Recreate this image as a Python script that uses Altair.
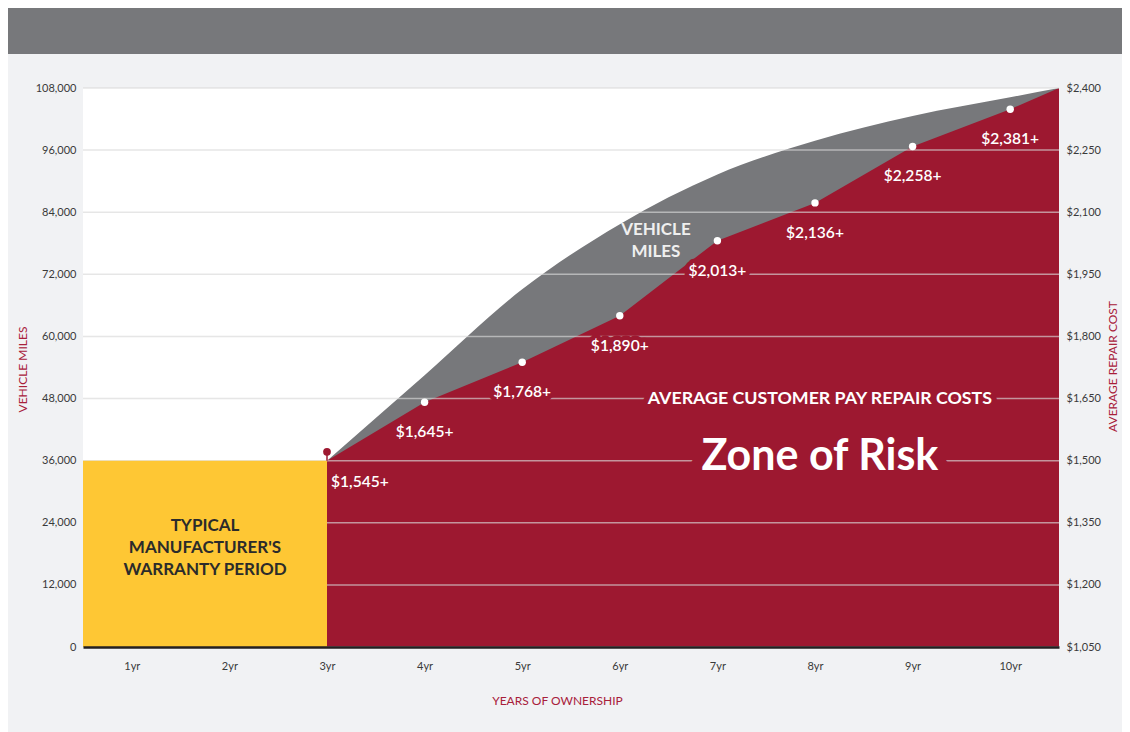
import altair as alt
import pandas as pd

# ---------------- data ----------------
years = [1, 2, 3, 4, 5, 6, 7, 8, 9, 10]
mile_ticks = [0, 12000, 24000, 36000, 48000, 60000, 72000, 84000, 96000, 108000]
cost_ticks = [1050, 1200, 1350, 1500, 1650, 1800, 1950, 2100, 2250, 2400]

warranty_start = [0.5]
warranty_end = [3]
warranty_miles = [36000]

# vehicle miles curve (top of grey area)
miles_x = [3, 4, 5, 6, 7, 8, 9, 10, 10.5]
miles_y = [36000, 52500, 69100, 81700, 91300, 97800, 102600, 106200, 108000]

# average customer pay repair cost (top of red area), on the miles scale
cost_x = [3, 4, 5, 6, 7, 8, 9, 10, 10.5]
cost_y = [36000, 47300, 55000, 64000, 78500, 85800, 96700, 103900, 108000]

# marker dots and their labels
dot_years = [3, 4, 5, 6, 7, 8, 9, 10]
dot_miles = [37700, 47300, 55000, 64000, 78500, 85800, 96700, 103900]
dot_labels = ["$1,545+", "$1,645+", "$1,768+", "$1,890+", "$2,013+", "$2,136+", "$2,258+", "$2,381+"]

# ---------------- styling ----------------
W, H = 976, 559
RED = "#9d1830"
GREY = "#77787b"
YELLOW = "#fec734"
BG = "#f1f2f4"
TITLE_RED = "#a8203a"
FONT = "Lato"

xscale = alt.Scale(domain=[0.5, 10.5], nice=False, zero=False)
yscale = alt.Scale(domain=[0, 108000], nice=False, zero=False)

x_axis = alt.Axis(values=years, labelExpr="datum.value + 'yr'", ticks=False, grid=False,
                  domain=True, domainColor="#231f20", domainWidth=2.5, zindex=1,
                  labelPadding=13, labelFontSize=11, labelColor="#3a3a3a",
                  titleColor=TITLE_RED, titleFontSize=12, titleFontWeight="normal",
                  titleX=474, titleY=53, titleBaseline="middle")
y_axis = alt.Axis(values=mile_ticks, format=",.0f", ticks=False, grid=False, domain=False,
                  labelPadding=7, labelFontSize=11, labelColor="#3a3a3a",
                  titleColor=TITLE_RED, titleFontSize=12, titleFontWeight="normal",
                  titleAngle=270, titleX=-61, titleY=281, titleAlign="center",
                  titleBaseline="middle")
r_axis = alt.Axis(orient="right", values=cost_ticks, format="$,.0f", ticks=False, grid=False,
                  domain=False, labelPadding=7, labelFontSize=11, labelColor="#3a3a3a",
                  titleColor=TITLE_RED, titleFontSize=12, titleFontWeight="normal",
                  titleAngle=270, titleX=53, titleY=278, titleAlign="center",
                  titleBaseline="middle")


def X(f):
    return alt.X(f"{f}:Q", scale=xscale, axis=x_axis, title="YEARS OF OWNERSHIP")


def Y(f):
    return alt.Y(f"{f}:Q", scale=yscale, axis=y_axis, title="VEHICLE MILES")


miles_df = pd.DataFrame({"x": miles_x, "y": miles_y})
cost_df = pd.DataFrame({"x": cost_x, "y": cost_y})
dots_df = pd.DataFrame({"x": dot_years, "y": dot_miles, "label": dot_labels})
grid_df = pd.DataFrame({"y": mile_ticks})
warr_df = pd.DataFrame({"x": warranty_start, "x2": warranty_end, "y": [0], "y2": warranty_miles})
pin_df = pd.DataFrame({"x": dot_years[:1], "y": dot_miles[:1], "y2": warranty_miles})
rcost_df = pd.DataFrame({"c": cost_ticks})

header = alt.Chart(pd.DataFrame({"a": [0]})).mark_rect(color=GREY).encode(
    x=alt.value(-75), x2=alt.value(W + 63), y=alt.value(-80), y2=alt.value(-34))

grey_area = alt.Chart(miles_df).mark_area(color=GREY, interpolate="monotone").encode(
    x=X("x"), y=Y("y"))
red_area = alt.Chart(cost_df).mark_area(color=RED, interpolate="linear").encode(
    x=X("x"), y=Y("y"))
grid = alt.Chart(grid_df).mark_rule(color="#d9d9d9", opacity=0.65, strokeWidth=1.5).encode(
    y=Y("y"), x=alt.value(0), x2=alt.value(W))
warranty = alt.Chart(warr_df).mark_rect(color=YELLOW).encode(
    x=X("x"), x2="x2:Q", y=Y("y"), y2="y2:Q")

LBL = 15.6

# knockout (red halo) behind labels that sit on grid lines
knock_dots = alt.Chart(dots_df).transform_filter(
    "datum.x >= 5 && datum.x <= 7").mark_text(
    font=FONT, fontSize=LBL, fontWeight=600, dy=30, baseline="middle",
    color=RED, stroke=RED, strokeWidth=9, strokeJoin="round").encode(
    x=X("x"), y=Y("y"), text="label:N")

label_first = alt.Chart(dots_df).transform_filter("datum.x == 3").mark_text(
    font=FONT, fontSize=LBL, fontWeight=600, dy=30, dx=4, align="left", baseline="middle",
    color="white").encode(x=X("x"), y=Y("y"), text="label:N")
label_rest = alt.Chart(dots_df).transform_filter("datum.x > 3").mark_text(
    font=FONT, fontSize=LBL, fontWeight=600, dy=30, align="center", baseline="middle",
    color="white").encode(x=X("x"), y=Y("y"), text="label:N")

pin = alt.Chart(pin_df).mark_rule(color=RED, strokeWidth=1.5).encode(
    x=X("x"), y=Y("y"), y2="y2:Q")
pin_dot = alt.Chart(dots_df).transform_filter("datum.x == 3").mark_circle(
    color=RED, opacity=1, size=60).encode(x=X("x"), y=Y("y"))
white_dots = alt.Chart(dots_df).transform_filter("datum.x > 3").mark_circle(
    color="white", opacity=1, size=55).encode(x=X("x"), y=Y("y"))

ann_big = pd.DataFrame({"text": ["Zone of Risk"], "x": [8.05], "y": [36700]})
ann_sub = pd.DataFrame({"text": ["AVERAGE CUSTOMER PAY REPAIR COSTS"], "x": [8.05], "y": [48000]})
ann_vm = pd.DataFrame({"text": ["VEHICLE\nMILES"], "x": [6.37], "y": [80500]})
ann_w = pd.DataFrame({"text": ["TYPICAL\nMANUFACTURER'S\nWARRANTY PERIOD"], "x": [1.75], "y": [23300]})


def ann_layer(df, size, color, knock=0, lh=None):
    kw = dict(font=FONT, fontSize=size, fontWeight="bold", align="center", baseline="middle",
              lineBreak="\n")
    if lh:
        kw["lineHeight"] = lh
    if knock:
        kw.update(color=RED, stroke=RED, strokeWidth=knock, strokeJoin="round")
    else:
        kw.update(color=color)
    return alt.Chart(df).mark_text(**kw).encode(x=X("x"), y=Y("y"), text="text:N")


layers = [
    header, grey_area, red_area, grid, warranty,
    knock_dots,
    ann_layer(ann_big, 43, "white", knock=24),
    ann_layer(ann_sub, 17.8, "white", knock=11),
    ann_layer(ann_big, 43, "white"),
    ann_layer(ann_sub, 17.8, "white"),
    ann_layer(ann_vm, 17, "#efefef", lh=22),
    ann_layer(ann_w, 17, "#2b2b2b", lh=22),
    label_first, label_rest, pin, pin_dot, white_dots,
]
left = alt.layer(*layers)

right = alt.Chart(rcost_df).mark_rule(opacity=0).encode(
    y=alt.Y("c:Q", scale=alt.Scale(domain=[1050, 2400], nice=False, zero=False),
            axis=r_axis, title="AVERAGE REPAIR COST"))

chart = alt.layer(left, right).resolve_scale(y="independent").properties(
    width=W, height=H,
    autosize=alt.AutoSizeParams(type="none"),
    padding={"left": 75, "top": 80, "right": 63, "bottom": 85},
    background=BG,
).configure_view(fill="white", stroke=None).configure_axis(
    labelFont=FONT, titleFont=FONT)

chart.save("out.html", embed_options={"renderer": "svg", "actions": False})
